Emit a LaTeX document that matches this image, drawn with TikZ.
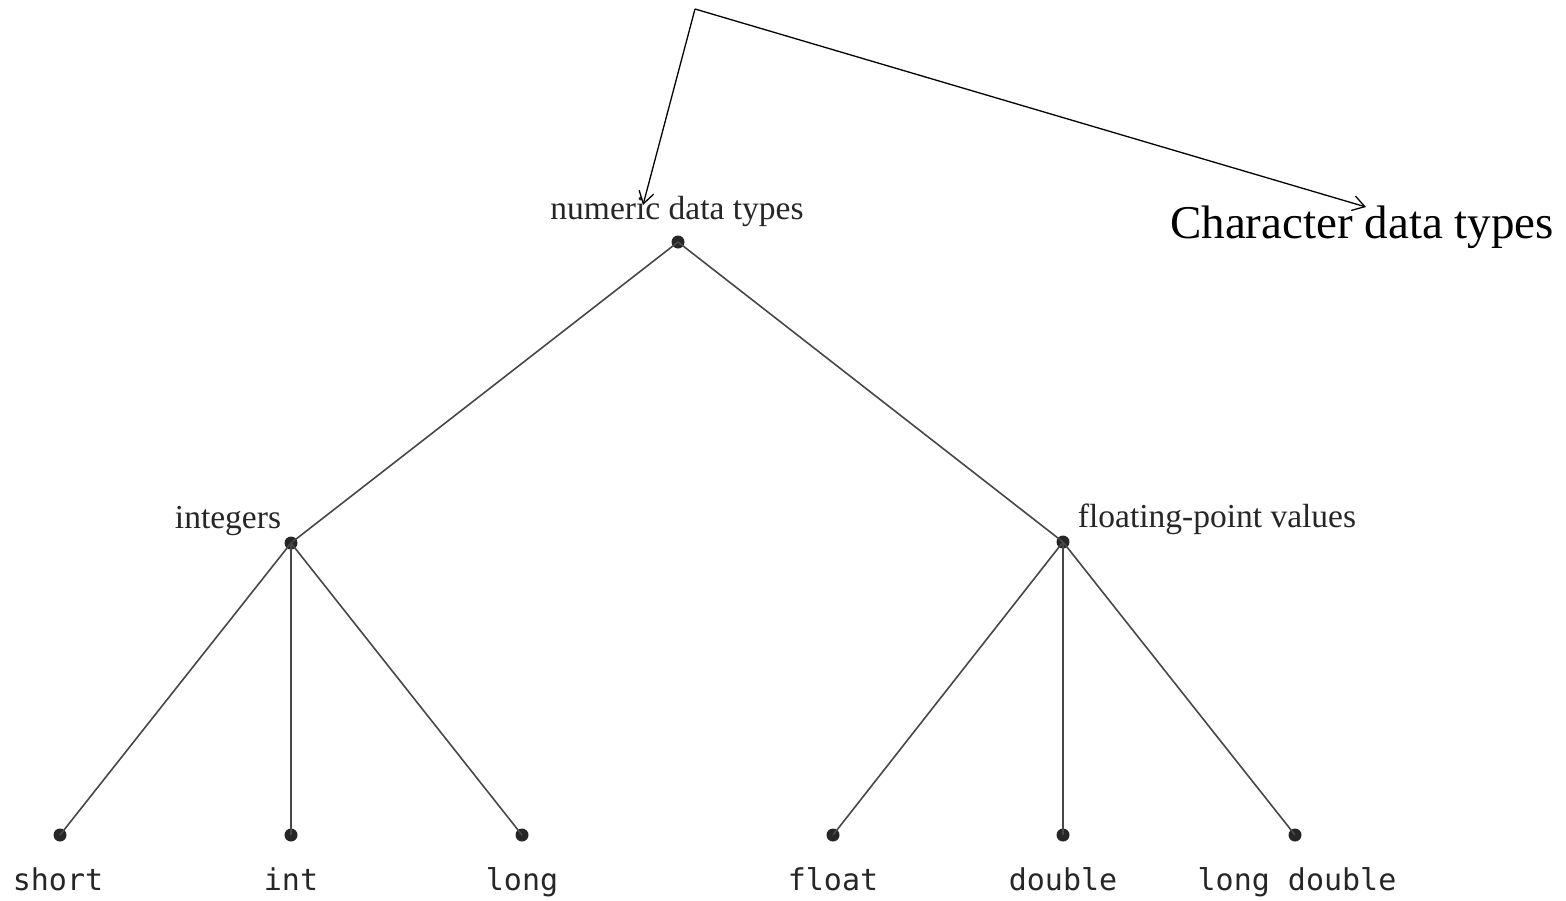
\documentclass[tikz,border=0pt]{standalone}
\usepackage{fontspec}
\setmainfont{Liberation Serif}
\setmonofont{DejaVu Sans Mono}
\usetikzlibrary{arrows.meta}
\begin{document}
\begin{tikzpicture}[x=1pt,y=-1pt,
  dot/.style={circle,fill=black!85,inner sep=0pt,minimum size=13pt},
  edge/.style={draw=black!72,line width=1.6pt},
  lbl/.style={text=black!85,inner sep=0pt,font=\fontsize{33.5}{38}\selectfont},
  code/.style={text=black!85,inner sep=0pt,anchor=base,font=\ttfamily\fontsize{30}{34}\selectfont},
  arr/.style={draw=black,line width=1.3pt,-{Straight Barb[length=12pt,width=15pt,line width=1.3pt]}}]
\path[use as bounding box,fill=white] (0,0) rectangle (1566,900);
% dots
\node[dot] (root) at (678,242) {};
\node[dot] (intn) at (291,543) {};
\node[dot] (flt) at (1063,542) {};
\node[dot] (sh) at (60,835) {};
\node[dot] (in) at (291,835) {};
\node[dot] (lo) at (522,835) {};
\node[dot] (fl) at (833,835) {};
\node[dot] (db) at (1063,835) {};
\node[dot] (ld) at (1295,835) {};
% edges
\path[edge] (root.center) -- (intn.center);
\path[edge] (root.center) -- (flt.center);
\path[edge] (intn.center) -- (sh.center);
\path[edge] (intn.center) -- (in.center);
\path[edge] (intn.center) -- (lo.center);
\path[edge] (flt.center) -- (fl.center);
\path[edge] (flt.center) -- (db.center);
\path[edge] (flt.center) -- (ld.center);
% labels
\node[lbl,anchor=base] (rootl) at (677,219) {numeric data types};
\node[lbl,anchor=base] (intl) at (228,528) {integers};
\node[lbl,anchor=base] (fltl) at (1217,527) {floating-point values};
\node[code] (shl) at (58,890) {short};
\node[code] (inl) at (291,890) {int};
\node[code] (lol) at (522,890) {long};
\node[code] (fll) at (833,890) {float};
\node[code] (dbl) at (1063,890) {double};
\node[code] (ldl) at (1297,890) {long double};
\node[anchor=base,inner sep=0pt,font=\fontsize{47}{52}\selectfont] (chl) at (1362,238) {Character data types};
% arrows
\coordinate (apex) at (695,9);
\coordinate (numtip) at (643,205);
\coordinate (chtip) at (1366,207);
\draw[arr] (apex) -- (numtip);
\draw[arr] (apex) -- (chtip);
\end{tikzpicture}
\end{document}
